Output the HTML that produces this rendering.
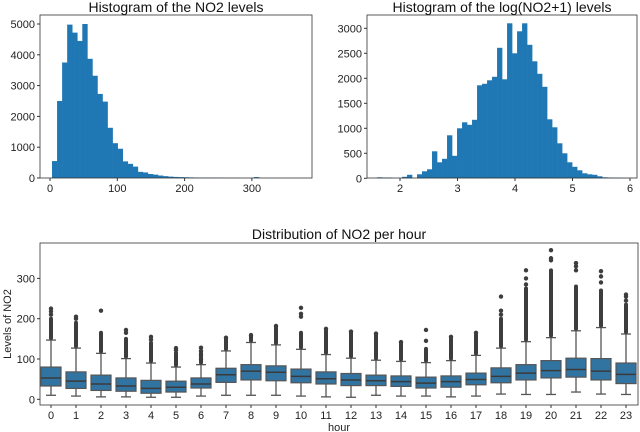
<!DOCTYPE html>
<html><head><meta charset="utf-8">
<style>
body{margin:0;background:#fff;}
svg{display:block;font-family:"Liberation Sans","DejaVu Sans",sans-serif;}
</style></head>
<body>
<svg id="chart" width="640" height="432" viewBox="0 0 640 432" xmlns="http://www.w3.org/2000/svg"></svg>
<script>
// ---- Histogram 1 data ----
const h1Start = 3;
const h1Width = 7.5;
const h1Counts = [550,2500,3750,4980,4720,4450,5000,3870,3320,2730,2480,1630,1130,950,540,460,370,200,180,130,110,80,60,45,35,30,25,20,15,12,10,10,8,8,6,6,5,0,0,0,30,0,0,0,0,0,0,0,0,0];
const h1XTicks = [0,100,200,300];
const h1YTicks = [0,1000,2000,3000,4000,5000];
// ---- Histogram 2 data ----
const h2Start = 1.6;
const h2Width = 0.087;
const h2Counts = [20,15,15,0,0,30,70,0,80,140,180,540,320,390,860,450,1000,1120,1070,1170,1860,1890,1960,2030,2610,1980,3100,2500,2940,3100,2670,2340,2090,1830,1180,1020,700,500,320,230,160,100,80,70,40,20,15,10,10,5];
const h2XTicks = [2,3,4,5,6];
const h2YTicks = [0,500,1000,1500,2000,2500,3000];
// ---- Boxplot data ----
const hours = ["0","1","2","3","4","5","6","7","8","9","10","11","12","13","14","15","16","17","18","19","20","21","22","23"];
const q1s =   [33,27,22,20,15,18,28,42,48,46,41,38,34,34,32,28,30,36,41,48,53,55,48,39];
const meds =  [53,45,38,33,27,30,38,61,70,67,57,51,48,46,44,40,44,49,57,65,71,74,70,62];
const q3s =   [80,68,60,53,47,45,53,77,86,83,75,68,64,60,58,55,58,65,78,86,96,102,101,90];
const wLo =   [10,8,6,6,5,5,8,10,10,10,8,6,5,10,8,8,6,8,13,12,12,18,13,12];
const wHi =   [147,127,114,101,90,80,86,120,141,135,124,111,102,97,94,91,96,109,127,143,153,170,178,162];
const denseTop = [200,190,165,150,140,115,115,150,160,178,165,170,165,160,140,125,150,160,200,275,320,280,270,235];
const sparseOut = [[210,218,225],[200,205],[220],[165,172],[148,155],[122,127],[100,110,120,128],[153],[158],[182],[205,212,227],[175],[168],[163],[142],[145,172],[155],[165],[210,220,255],[285,300,320],[345,350,370],[320,330,338],[290,305,318],[245,255,260]];
const bYTicks = [0,100,200,300];

const svg = document.getElementById('chart');
const NS = 'http://www.w3.org/2000/svg';
function mk(tag, attrs, parent){const e=document.createElementNS(NS,tag);for(const k in attrs)e.setAttribute(k,attrs[k]);(parent||svg).appendChild(e);return e;}
function txt(s, attrs, parent){const e=mk('text',attrs,parent);e.textContent=s;return e;}

// ===== Histogram 1 =====
const A1={l:40,r:312,t:15,b:178};
const x1=v=>50+(v-0)*0.673;
const y1=v=>178-v*(154/5000);
const g1=mk('g',{});


h1Counts.forEach((c,i)=>{
  if(c<=0)return;
  const xa=x1(h1Start+i*h1Width), xb=x1(h1Start+(i+1)*h1Width);
  const r=mk('rect',{x:xa,y:y1(c),width:xb-xa+0.3,height:178-y1(c),fill:'#1f77b4'},g1);
  
  
});
mk('rect',{x:A1.l,y:A1.t,width:A1.r-A1.l,height:A1.b-A1.t,fill:'none',stroke:'#333',"stroke-width":0.8},g1);
h1XTicks.forEach(t=>{mk('line',{x1:x1(t),x2:x1(t),y1:178,y2:181,stroke:'#333'},g1);
  const e=txt(t,{x:x1(t),y:192,"font-size":11,"text-anchor":"middle",fill:'#222'},g1);
  });
h1YTicks.forEach(t=>{mk('line',{x1:37,x2:40,y1:y1(t),y2:y1(t),stroke:'#333'},g1);
  const e=txt(t,{x:35,y:y1(t)+4,"font-size":11,"text-anchor":"end",fill:'#222'},g1);
  });
const t1=txt('Histogram of the NO2 levels',{x:176,y:12,"font-size":14,"text-anchor":"middle",fill:'#111'});


// ===== Histogram 2 =====
const A2={l:367,r:637,t:15,b:178};
const x2=v=>400+(v-2)*57.5;
const y2=v=>178.3-v*(150/3000);
const g2=mk('g',{});


h2Counts.forEach((c,i)=>{
  if(c<=0)return;
  const xa=x2(h2Start+i*h2Width), xb=x2(h2Start+(i+1)*h2Width);
  const r=mk('rect',{x:xa,y:y2(c),width:xb-xa+0.3,height:178.3-y2(c),fill:'#1f77b4'},g2);
  
  
});
mk('rect',{x:A2.l,y:A2.t,width:A2.r-A2.l,height:A2.b-A2.t,fill:'none',stroke:'#333',"stroke-width":0.8},g2);
h2XTicks.forEach(t=>{mk('line',{x1:x2(t),x2:x2(t),y1:178,y2:181,stroke:'#333'},g2);
  const e=txt(t,{x:x2(t),y:192,"font-size":11,"text-anchor":"middle",fill:'#222'},g2);
  });
h2YTicks.forEach(t=>{mk('line',{x1:364,x2:367,y1:y2(t),y2:y2(t),stroke:'#333'},g2);
  const e=txt(t,{x:362,y:y2(t)+4,"font-size":11,"text-anchor":"end",fill:'#222'},g2);
  });
const t2=txt('Histogram of the log(NO2+1) levels',{x:502,y:12,"font-size":14,"text-anchor":"middle",fill:'#111'});


// ===== Boxplot =====
const B={l:40,r:638,t:243,b:405};
const xb=i=>51+i*25;
const yb=v=>399.3-v*0.403;
const g3=mk('g',{});


hours.forEach((h,i)=>{
  const cx=xb(i), hw=10;
  const grp=mk('g',{},g3);
  
  
  mk('line',{x1:cx,x2:cx,y1:yb(q3s[i]),y2:yb(wHi[i]),stroke:'#555',"stroke-width":1.3},grp);
  mk('line',{x1:cx,x2:cx,y1:yb(q1s[i]),y2:yb(wLo[i]),stroke:'#555',"stroke-width":1.3},grp);
  mk('line',{x1:cx-5,x2:cx+5,y1:yb(wHi[i]),y2:yb(wHi[i]),stroke:'#555',"stroke-width":1.3},grp);
  mk('line',{x1:cx-5,x2:cx+5,y1:yb(wLo[i]),y2:yb(wLo[i]),stroke:'#555',"stroke-width":1.3},grp);
  mk('rect',{x:cx-hw,y:yb(q3s[i]),width:2*hw,height:yb(q1s[i])-yb(q3s[i]),fill:'#3274a1',stroke:'#555',"stroke-width":1.2},grp);
  mk('line',{x1:cx-hw,x2:cx+hw,y1:yb(meds[i]),y2:yb(meds[i]),stroke:'#3a3a3a',"stroke-width":1.5},grp);
  mk('line',{x1:cx,x2:cx,y1:yb(wHi[i])-2,y2:yb(denseTop[i]),stroke:'#3d3d3d',"stroke-width":4,"stroke-linecap":"round"},grp);
  sparseOut[i].forEach(v=>mk('circle',{cx:cx,cy:yb(v),r:2.2,fill:'#3d3d3d'},grp));
  mk('line',{x1:cx,x2:cx,y1:405,y2:408,stroke:'#333'},g3);
  const e=txt(h,{x:cx,y:419,"font-size":11,"text-anchor":"middle",fill:'#222'},g3);
  
});
mk('rect',{x:B.l,y:B.t,width:B.r-B.l,height:B.b-B.t,fill:'none',stroke:'#333',"stroke-width":0.8},g3);
bYTicks.forEach(t=>{mk('line',{x1:37,x2:40,y1:yb(t),y2:yb(t),stroke:'#333'},g3);
  const e=txt(t,{x:35,y:yb(t)+4,"font-size":11,"text-anchor":"end",fill:'#222'},g3);
  });
const t3=txt('Distribution of NO2 per hour',{x:339,y:239,"font-size":14,"text-anchor":"middle",fill:'#111'});

const xl=txt('hour',{x:339,y:431,"font-size":11,"text-anchor":"middle",fill:'#222'});

const yl=txt('Levels of NO2',{x:0,y:0,"font-size":11,"text-anchor":"middle",fill:'#222',transform:'translate(11,324) rotate(-90)'});

</script>
</body></html>
